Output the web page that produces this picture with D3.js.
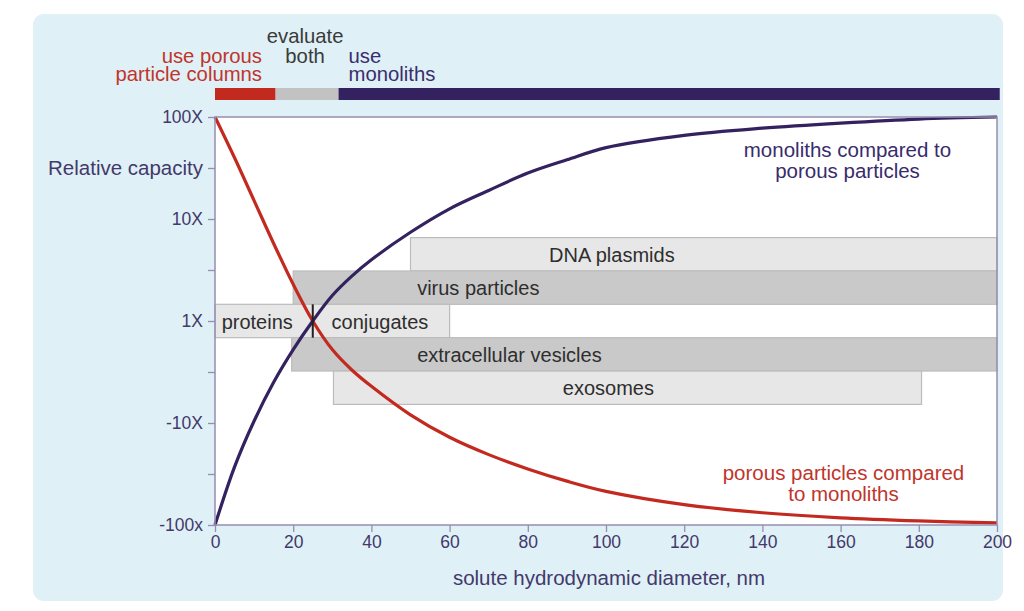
<!DOCTYPE html>
<html><head><meta charset="utf-8">
<script src="https://cdn.jsdelivr.net/npm/d3@7"></script>
<style>
html,body{margin:0;padding:0;background:#fff;}
svg{display:block;font-family:"Liberation Sans",Arial,Helvetica,sans-serif;}
</style></head>
<body>
<svg id="chart" width="1024" height="611"></svg>
<script>
// ---- data ----
const sizes = [0, 5, 10, 15, 20, 25, 30, 35, 40, 50, 60, 70, 80, 90, 100, 120, 140, 160, 180, 200];
// log10 relative capacity (2 = 100X, -2 = -100x)
const porousVsMonolith = [2.0, 1.60, 1.18, 0.76, 0.36, 0, -0.28, -0.48, -0.64, -0.92, -1.14, -1.31, -1.45, -1.57, -1.67, -1.80, -1.88, -1.93, -1.96, -1.98];
const monolithVsPorous = [-2.0, -1.43, -0.98, -0.60, -0.28, 0, 0.25, 0.44, 0.60, 0.87, 1.10, 1.28, 1.45, 1.58, 1.70, 1.82, 1.89, 1.94, 1.98, 2.0];
const yTickValues = [2, 1.5, 1, 0.5, 0, -0.5, -1, -1.5, -2];
const yTickLabels = ["100X", "Relative capacity", "10X", "", "1X", "", "-10X", "", "-100x"];
const xTickValues = [0, 20, 40, 60, 80, 100, 120, 140, 160, 180, 200];
// solute classes: size range (nm) and row (0 = 1X row)
const soluteNames = ["DNA plasmids", "virus particles", "proteins", "conjugates", "extracellular vesicles", "exosomes"];
const soluteFrom  = [50, 20, 0, 25, 19.6, 30.3];
const soluteTo    = [200, 200, 25, 60, 200, 180.7];
const soluteRow   = [2, 1, 0, 0, -1, -2];
const soluteShade = ["light", "dark", "light", "light", "dark", "light"];
const soluteLabelAt = [101.5, 51.7, 1.7, 29.8, 51.7, 100.6];
const soluteAnchor  = ["middle", "start", "start", "start", "start", "middle"];
const crossover = 25;
// recommendation zones along the top
const zoneFrom  = [0, 15.5, 31.6];
const zoneTo    = [15.5, 31.6, 200.7];
const zoneNames = ["use porous particle columns", "evaluate both", "use monoliths"];

// ---- layout ----
const svg = d3.select("#chart");
const M = {left: 215, right: 997, top: 117, bottom: 525};
const x = d3.scaleLinear().domain([0, 200]).range([M.left, M.right]);
const y = d3.scaleLinear().domain([-2, 2]).range([M.bottom, M.top]);
const rowH = 0.327;

const C = {
  panel: "#dff0f7", axis: "#978db0", axisText: "#43396a",
  red: "#c22a20", purple: "#33225f", gray: "#c2c2c2",
  light: "#e7e7e7", dark: "#c9c9c9", boxStroke: "#bcbcbc", boxText: "#2e2e2e"
};

// background panel
svg.append("rect").attr("x", 33).attr("y", 14).attr("width", 970).attr("height", 587)
  .attr("rx", 11).attr("fill", C.panel);

// plot area
svg.append("rect").attr("x", M.left).attr("y", M.top)
  .attr("width", M.right - M.left).attr("height", M.bottom - M.top)
  .attr("fill", "#fff");

// zone bar
const zoneColors = [C.red, C.gray, C.purple];
svg.append("g").selectAll("rect").data(zoneNames).join("rect")
  .attr("x", (d, i) => x(zoneFrom[i]))
  .attr("width", (d, i) => x(zoneTo[i]) - x(zoneFrom[i]))
  .attr("y", 88).attr("height", 12)
  .attr("fill", (d, i) => zoneColors[i]);

// zone labels
const zl = svg.append("g").attr("font-size", 20.3);
function lines(txt, xpos, anchor, y0, dy, color) {
  const t = zl.append("text").attr("text-anchor", anchor).attr("fill", color);
  txt.forEach((s, k) => t.append("tspan").attr("x", xpos).attr("y", y0 + k * dy).text(s));
}
lines(["use porous", "particle columns"], x(zoneFrom[0]) + 47, "end", 62.5, 18.5, "#c0352b");
lines(["evaluate", "both"], (x(zoneFrom[1]) + x(zoneTo[1])) / 2 - 2, "middle", 43, 19.5, "#3a3a3a");
lines(["use", "monoliths"], x(zoneFrom[2]) + 10, "start", 62.5, 18.5, "#3a2d6c");

// solute boxes
const boxes = svg.append("g");
soluteNames.forEach((name, i) => {
  const yc = y(soluteRow[i] * rowH);
  const h = y(0) - y(rowH);
  boxes.append("rect")
    .attr("x", x(soluteFrom[i])).attr("y", yc - h / 2)
    .attr("width", x(soluteTo[i]) - x(soluteFrom[i])).attr("height", h)
    .attr("fill", soluteShade[i] === "light" ? C.light : C.dark)
    .attr("stroke", C.boxStroke).attr("stroke-width", 1.2);
});
soluteNames.forEach((name, i) => {
  const yc = y(soluteRow[i] * rowH);
  boxes.append("text").attr("x", x(soluteLabelAt[i])).attr("y", yc + 7.5)
    .attr("text-anchor", soluteAnchor[i]).attr("font-size", 20)
    .attr("fill", C.boxText).text(name);
});

// curves
const line = d3.line().x(d => x(d[0])).y(d => y(d[1])).curve(d3.curveCatmullRom.alpha(0.5));
svg.append("path").datum(sizes.map((s, i) => [s, porousVsMonolith[i]]))
  .attr("d", line).attr("fill", "none").attr("stroke", C.red).attr("stroke-width", 3.2);
svg.append("path").datum(sizes.map((s, i) => [s, monolithVsPorous[i]]))
  .attr("d", line).attr("fill", "none").attr("stroke", C.purple).attr("stroke-width", 3.2);

// crossover marker
const h0 = y(0) - y(rowH);
svg.append("line").attr("x1", x(crossover)).attr("x2", x(crossover))
  .attr("y1", y(0) - h0 / 2).attr("y2", y(0) + h0 / 2)
  .attr("stroke", "#222").attr("stroke-width", 2);

// plot border
svg.append("rect").attr("x", M.left).attr("y", M.top)
  .attr("width", M.right - M.left).attr("height", M.bottom - M.top)
  .attr("fill", "none").attr("stroke", C.axis).attr("stroke-width", 1.5);

// axes
const yAxis = svg.append("g").attr("transform", `translate(${M.left},0)`)
  .call(d3.axisLeft(y).tickValues(yTickValues).tickSize(7).tickPadding(5)
    .tickFormat((d, i) => yTickLabels[i]));
const xAxis = svg.append("g").attr("transform", `translate(0,${M.bottom})`)
  .call(d3.axisBottom(x).tickValues(xTickValues).tickSize(7).tickPadding(4)
    .tickFormat(d3.format("d")));
[yAxis, xAxis].forEach(g => {
  g.select(".domain").remove();
  g.selectAll(".tick line").attr("stroke", C.axis).attr("stroke-width", 1.3);
  g.selectAll(".tick text").attr("fill", C.axisText).attr("font-size", 17.5)
    .attr("font-family", "Liberation Sans, Arial, sans-serif");
});
yAxis.selectAll(".tick text").filter((d, i) => yTickLabels[i] === "Relative capacity")
  .attr("font-size", 20.5);

// x axis title
svg.append("text").attr("x", (M.left + M.right) / 2 + 3).attr("y", 585)
  .attr("text-anchor", "middle").attr("font-size", 20.5).attr("fill", C.axisText)
  .text("solute hydrodynamic diameter, nm");

// curve labels
const cl = svg.append("g").attr("font-size", 20.5).attr("text-anchor", "middle");
const t1 = cl.append("text").attr("fill", "#392c6c");
["monoliths compared to", "porous particles"].forEach((s, k) =>
  t1.append("tspan").attr("x", 847.5).attr("y", 157 + k * 20.5).text(s));
const t2 = cl.append("text").attr("fill", "#c0352b");
["porous particles compared", "to monoliths"].forEach((s, k) =>
  t2.append("tspan").attr("x", 843.5).attr("y", 480 + k * 20.5).text(s));
</script>
</body></html>
